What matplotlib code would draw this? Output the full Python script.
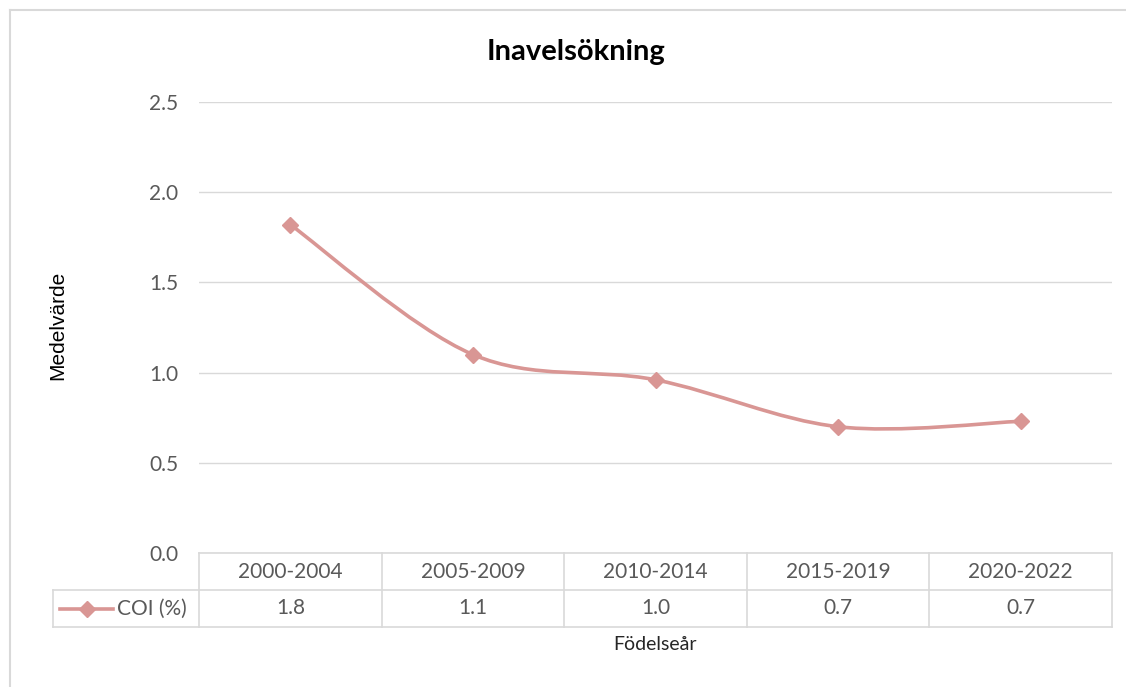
import matplotlib
matplotlib.use("Agg")
import matplotlib.pyplot as plt
import matplotlib.transforms as mtransforms
from matplotlib.lines import Line2D
from matplotlib.path import Path
from matplotlib.patches import PathPatch
import numpy as np

categories = ["2000-2004", "2005-2009", "2010-2014", "2015-2019", "2020-2022"]
coi_values = [1.82, 1.10, 0.96, 0.70, 0.73]
table_labels = ["1.8", "1.1", "1.0", "0.7", "0.7"]
series_name = "COI (%)"
yticks = [0.0, 0.5, 1.0, 1.5, 2.0, 2.5]

W, H = 1126, 687
fig = plt.figure(figsize=(W / 100, H / 100), dpi=100)
FONT = "Lato"
LINE_C = "#d99694"
GRID_C = "#d9d9d9"
TXT_C = "#595959"
FS = 15

def fx(px):
    return px / W

def fy(py):
    return 1 - py / H

ax_l, ax_r, ax_t, ax_b = 199, 1112, 102, 553
ax = fig.add_axes([fx(ax_l), fy(ax_b), fx(ax_r - ax_l), (ax_b - ax_t) / H])
n = len(categories)
ax.set_xlim(-0.5, n - 0.5)
ax.set_ylim(0, 2.5)
for s in ax.spines.values():
    s.set_visible(False)
ax.set_xticks([])
ax.set_yticks(yticks)
ax.set_yticklabels([f"{v:.1f}" for v in yticks], fontsize=FS, color=TXT_C, family=FONT)
ax.tick_params(axis="y", length=0, pad=15)
ax.grid(axis="y", color=GRID_C, linewidth=1)
ax.set_axisbelow(True)

# Smoothed line (Excel-style Catmull-Rom Bezier)
xs = np.arange(n, dtype=float)
ys = np.array(coi_values, dtype=float)
pts = np.column_stack([xs, ys])
verts = [pts[0]]
codes = [Path.MOVETO]
for i in range(n - 1):
    p0 = pts[i - 1] if i > 0 else pts[i]
    p1 = pts[i]
    p2 = pts[i + 1]
    p3 = pts[i + 2] if i + 2 < n else pts[i + 1]
    c1 = p1 + (p2 - p0) / 6
    c2 = p2 - (p3 - p1) / 6
    verts += [c1, c2, p2]
    codes += [Path.CURVE4] * 3
ax.add_patch(PathPatch(Path(verts, codes), facecolor="none", edgecolor=LINE_C,
                       linewidth=2.6, capstyle="round", joinstyle="round", zorder=3))
ax.plot(xs, ys, linestyle="none", marker="D", markersize=8, color=LINE_C, zorder=4)

# Data table
bt = mtransforms.blended_transform_factory(ax.transData, fig.transFigure)
r0, r1, r2 = 553, 590, 627
def vline(x, y0, y1, trans):
    fig.add_artist(Line2D([x, x], [fy(y0), fy(y1)], transform=trans, color=GRID_C, linewidth=1.2))

fig.add_artist(Line2D([-0.5, n - 0.5], [fy(r0), fy(r0)], transform=bt, color=GRID_C, linewidth=1.2))
fig.add_artist(Line2D([fx(53), fx(ax_r)], [fy(r1), fy(r1)], transform=fig.transFigure, color=GRID_C, linewidth=1.2))
fig.add_artist(Line2D([fx(53), fx(ax_r)], [fy(r2), fy(r2)], transform=fig.transFigure, color=GRID_C, linewidth=1.2))
vline(fx(53), r1, r2, fig.transFigure)
for k in range(n + 1):
    vline(k - 0.5, r0, r2, bt)

for i, c in enumerate(categories):
    fig.text(i, fy((r0 + r1) / 2), c, transform=bt, fontsize=FS, color=TXT_C,
             family=FONT, ha="center", va="center")
    fig.text(i, fy((r1 + r2) / 2), table_labels[i], transform=bt, fontsize=FS,
             color=TXT_C, family=FONT, ha="center", va="center")

# legend key in table
ly = fy((r1 + r2) / 2)
fig.add_artist(Line2D([fx(60), fx(113)], [ly, ly], transform=fig.transFigure, color=LINE_C, linewidth=2.6))
fig.add_artist(Line2D([fx(86.5)], [ly], transform=fig.transFigure, color=LINE_C, marker="D", markersize=8, linestyle="none"))
fig.text(fx(117), ly, series_name, fontsize=FS, color=TXT_C, family=FONT, ha="left", va="center")

# Titles
fig.text(fx(576), fy(52), "Inavelsökning", fontsize=21, fontweight="bold", color="black",
         family=FONT, ha="center", va="center")
fig.text(fx(58), fy(325), "Medelvärde", fontsize=15, color="black", family="Liberation Sans",
         rotation=90, ha="center", va="center")
fig.text(fx(655), fy(645), "Födelseår", fontsize=14, color="#262626", family=FONT, ha="center", va="center")

# Chart frame (partial)
fig.add_artist(Line2D([fx(9.5), 1], [fy(9.5), fy(9.5)], transform=fig.transFigure, color="#d9d9d9", linewidth=1.5))
fig.add_artist(Line2D([fx(9.5), fx(9.5)], [fy(9.5), 0], transform=fig.transFigure, color="#d9d9d9", linewidth=1.5))

fig.savefig("out.png", dpi=100)
